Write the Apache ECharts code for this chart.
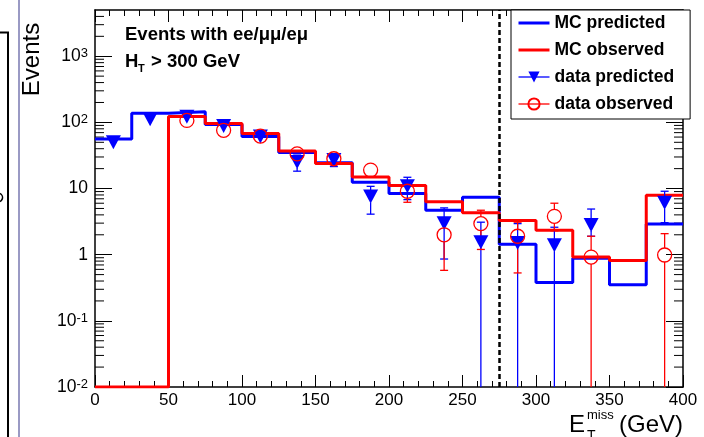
<!DOCTYPE html>
<html><head><meta charset="utf-8">
<script src="https://cdn.jsdelivr.net/npm/echarts@6/dist/echarts.min.js"></script>
<style>html,body{margin:0;padding:0;background:#fff}#c{width:704px;height:437px}</style>
</head><body><div id="c"></div>
<script>
// ---------------- data ----------------
const binCenters = [12.5,37.5,62.5,87.5,112.5,137.5,162.5,187.5,212.5,237.5,262.5,287.5,312.5,337.5,362.5,387.5];
const binWidth = 25;
const mcPredicted = [56,137,145,93,61,35,24.5,12.5,8.4,4.7,7.4,1.44,0.38,0.88,0.35,2.9];
const mcObserved  = [0,0,123,96,68,37,24,15,11.1,6.3,4.3,3.3,2.34,0.92,0.82,7.9];
const dataPredicted     = [50,112,122,88,61,25.3,27,7.6,10.8,3.0,1.54,1.5,1.39,2.8,null,6.1];
const dataPredictedLow  = [43,101,110,79,54,18.3,21.5,4.1,6.8,0.86,0,0,0,1.9,null,3.05];
const dataPredictedHigh = [57,123,134,97,68,32,33,10.8,14.8,5.1,3.1,2.95,2.6,4.9,null,9.1];
const dataObserved      = [null,null,107,76,62,33.5,28.2,19,9.1,2.0,2.95,1.9,3.8,0.92,null,0.99];
const dataObservedLow   = [null,null,96,67,54,27,22.5,15,6.2,0.58,1.2,0.53,2.3,0,null,0];
const dataObservedHigh  = [null,null,118,85,70,40,34,23,12.3,3.5,4.7,3.1,6.0,1.9,null,2.08];
const cutValue = 275;
const xTickLabels = ['0','50','100','150','200','250','300','350','400'];
const seriesNames = ['MC predicted','MC observed','data predicted','data observed'];

const X_MIN = 0, X_MAX = 400, X_INTERVAL = 50;
const Y_MIN = 0.01, Y_MAX = 5000;
const BLUE = '#0000ff', RED = '#ff0000';
const FONT = '"Liberation Sans", Arial, sans-serif';

// ---------------- helpers ----------------
function stepPoints(vals){
  const pts = [];
  vals.forEach((v,i)=>{
    const lo = binCenters[i]-binWidth/2, hi = lo+binWidth;
    const y = Math.max(v, Y_MIN);
    pts.push([lo,y],[hi,y]);
  });
  return pts;
}
function points(vals){
  const out=[];
  vals.forEach((v,i)=>{ if(v!==null) out.push([binCenters[i], v]); });
  return out;
}
function errData(vals, lows, highs){
  const out=[];
  vals.forEach((v,i)=>{ if(v!==null) out.push([binCenters[i], lows[i], highs[i], v]); });
  return out;
}
function errRender(color, gap){
  return function(params, api){
    const x = api.value(0), lo = api.value(1), hi = api.value(2), v = api.value(3);
    const toZero = lo <= Y_MIN;
    const pTop = api.coord([x, hi]);
    const pBot = api.coord([x, Math.max(lo, Y_MIN)]);
    const pV = api.coord([x, v]);
    const st = {stroke: color, lineWidth: 1.3, fill: null};
    const ch = [];
    if (pTop[1] < pV[1]-gap) {
      ch.push({type:'line', shape:{x1:pV[0], y1:pTop[1], x2:pV[0], y2:pV[1]-gap}, style:st});
      ch.push({type:'line', shape:{x1:pV[0]-4, y1:pTop[1], x2:pV[0]+4, y2:pTop[1]}, style:st});
    }
    if (pBot[1] > pV[1]+gap) {
      ch.push({type:'line', shape:{x1:pV[0], y1:pV[1]+gap, x2:pV[0], y2:pBot[1]}, style:st});
      if (!toZero) ch.push({type:'line', shape:{x1:pV[0]-4, y1:pBot[1], x2:pV[0]+4, y2:pBot[1]}, style:st});
    }
    return {type:'group', children: ch};
  };
}
// minor log ticks (2..9 x 10^k)
const minorTickValues = [];
for (let k=-2;k<=3;k++) for (let m=2;m<=9;m++){ const v=m*Math.pow(10,k); if (v<Y_MAX) minorTickValues.push(v); }

function yLabel(v){
  const e = Math.round(Math.log10(v));
  if (e===0) return '{b|1}';
  if (e===1) return '{b|10}';
  return '{b|10}{s|'+e+'}';
}

const chart = echarts.init(document.getElementById('c'), null, {renderer:'canvas'});
const axisLine = {show:true, onZero:false, lineStyle:{color:'#000', width:1.5}};

chart.setOption({
  animation:false,
  backgroundColor:'#fff',
  grid:{left:95, right:21, top:10, bottom:50, containLabel:false},
  xAxis:[
    {type:'value', min:X_MIN, max:X_MAX, interval:X_INTERVAL, position:'bottom',
     axisLine, splitLine:{show:false},
     axisTick:{inside:true, length:12, lineStyle:{color:'#000', width:1}},
     minorTick:{show:true, splitNumber:5, length:6, lineStyle:{color:'#000', width:1}},
     axisLabel:{margin:5, fontFamily:FONT, fontSize:17, color:'#000',
       formatter:(v)=>xTickLabels[Math.round(v/X_INTERVAL)]}},
    {type:'value', min:X_MIN, max:X_MAX, interval:X_INTERVAL, position:'top',
     axisLine, splitLine:{show:false},
     axisTick:{inside:true, length:12, lineStyle:{color:'#000', width:1}},
     minorTick:{show:true, splitNumber:5, length:6, lineStyle:{color:'#000', width:1}},
     axisLabel:{show:false}}
  ],
  yAxis:[
    {type:'log', logBase:10, min:Y_MIN, max:Y_MAX, position:'left',
     axisLine, splitLine:{show:false},
     axisTick:{inside:true, length:17, lineStyle:{color:'#000', width:1}},
     axisLabel:{margin:7, showMaxLabel:false, formatter:yLabel,
       rich:{b:{fontFamily:FONT, fontSize:17.5, color:'#000'},
             s:{fontFamily:FONT, fontSize:13, color:'#000', verticalAlign:'top'}}}},
    {type:'log', logBase:10, min:Y_MIN, max:Y_MAX, position:'right',
     axisLine, splitLine:{show:false},
     axisTick:{inside:true, length:17, lineStyle:{color:'#000', width:1}},
     axisLabel:{show:false}}
  ],
  legend:{
    orient:'vertical', left:511, top:10, padding:[4,16,6,6], itemGap:9,
    itemWidth:31, itemHeight:14, backgroundColor:'#fff', borderColor:'#000', borderWidth:1, borderRadius:0,
    textStyle:{fontFamily:FONT, fontWeight:'bold', fontSize:17.5, color:'#000'},
    data:[
      {name:seriesNames[0], itemStyle:{opacity:0}, lineStyle:{width:3}},
      {name:seriesNames[1], itemStyle:{opacity:0}, lineStyle:{width:3}},
      {name:seriesNames[2], lineStyle:{opacity:1, width:1.3, color:BLUE}},
      {name:seriesNames[3], lineStyle:{opacity:1, width:1.3, color:RED}}
    ]
  },
  graphic:[
    {type:'line', shape:{x1:0,y1:32.5,x2:9,y2:32.5}, style:{stroke:'#000', lineWidth:2}},
    {type:'line', shape:{x1:8,y1:32,x2:8,y2:437}, style:{stroke:'#000', lineWidth:2}},
    {type:'line', shape:{x1:19,y1:0,x2:19,y2:437}, style:{stroke:'#9a9ac4', lineWidth:2}},
    {type:'arc', shape:{cx:-2, cy:197.5, r:4.5, startAngle:-1.2, endAngle:1.2}, style:{stroke:'#000', lineWidth:1.5, fill:null}},
    {type:'text', x:32.5, y:59.5, rotation:Math.PI/2,
     style:{text:'Events', fontFamily:FONT, fontSize:24, fill:'#000', align:'center', verticalAlign:'middle'}},
    {type:'text', x:125, y:34.5, z:10,
     style:{text:'Events with ee/μμ/eμ', fontFamily:FONT, fontWeight:'bold', fontSize:18.5, fill:'#000', align:'left', verticalAlign:'middle'}},
    {type:'text', x:125, y:61.5, z:10,
     style:{text:'H', fontFamily:FONT, fontWeight:'bold', fontSize:18.5, fill:'#000', align:'left', verticalAlign:'middle'}},
    {type:'text', x:138, y:69, z:10,
     style:{text:'T', fontFamily:FONT, fontWeight:'bold', fontSize:11, fill:'#000', align:'left', verticalAlign:'middle'}},
    {type:'text', x:151, y:61.5, z:10,
     style:{text:'> 300 GeV', fontFamily:FONT, fontWeight:'bold', fontSize:18.5, fill:'#000', align:'left', verticalAlign:'middle'}},
    {type:'text', x:569, y:425.5,
     style:{text:'E', fontFamily:FONT, fontSize:24, fill:'#000', align:'left', verticalAlign:'middle'}},
    {type:'text', x:587, y:415.5,
     style:{text:'miss', fontFamily:FONT, fontSize:13, fill:'#000', align:'left', verticalAlign:'middle'}},
    {type:'text', x:587, y:436,
     style:{text:'T', fontFamily:FONT, fontSize:14, fill:'#000', align:'left', verticalAlign:'middle'}},
    {type:'text', x:619, y:425.5,
     style:{text:'(GeV)', fontFamily:FONT, fontSize:24, fill:'#000', align:'left', verticalAlign:'middle'}}
  ],
  series:[
    {name:'minorTicks', type:'custom', silent:true, z:1, clip:false,
     data:minorTickValues.map(v=>[v]),
     renderItem:(params, api)=>{
       const v = api.value(0);
       const l = api.coord([X_MIN, v]), r = api.coord([X_MAX, v]);
       const st = {stroke:'#000', lineWidth:1};
       return {type:'group', children:[
         {type:'line', shape:{x1:l[0], y1:l[1], x2:l[0]+9, y2:l[1]}, style:st},
         {type:'line', shape:{x1:r[0], y1:r[1], x2:r[0]-9, y2:r[1]}, style:st}
       ]};
     }},
    {name:seriesNames[0], type:'line', data:stepPoints(mcPredicted), symbol:'none', showSymbol:false, z:2,
     lineStyle:{color:BLUE, width:3}, itemStyle:{color:BLUE}},
    {name:seriesNames[1], type:'line', data:stepPoints(mcObserved), symbol:'none', showSymbol:false, z:3,
     lineStyle:{color:RED, width:3}, itemStyle:{color:RED},
     markLine:{silent:true, symbol:'none', label:{show:false},
       lineStyle:{color:'#000', type:[5,3], width:2.5}, data:[{xAxis:cutValue}]}},
    {name:'errPred', type:'custom', z:4, clip:true,
     data:errData(dataPredicted, dataPredictedLow, dataPredictedHigh), renderItem:errRender(BLUE, 6)},
    {name:'errObs', type:'custom', z:4, clip:true,
     data:errData(dataObserved, dataObservedLow, dataObservedHigh), renderItem:errRender(RED, 7)},
    {name:seriesNames[2], type:'line', data:points(dataPredicted), z:5,
     symbol:'triangle', symbolSize:[15,14], symbolRotate:180, showSymbol:true, showAllSymbol:true,
     lineStyle:{opacity:0}, itemStyle:{color:BLUE}},
    {name:seriesNames[3], type:'line', data:points(dataObserved), z:6,
     symbol:'circle', symbolSize:14, showSymbol:true, showAllSymbol:true,
     lineStyle:{opacity:0}, itemStyle:{color:'rgba(255,255,255,0)', borderColor:RED, borderWidth:1.3}}
  ]
});
</script></body></html>
